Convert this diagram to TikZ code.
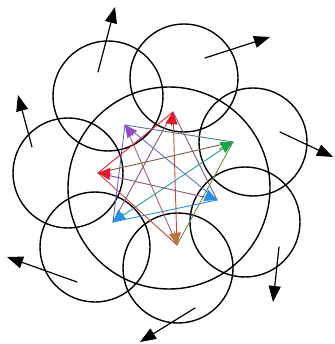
\documentclass[tikz,border=0pt]{standalone}
\usepackage{amsmath,amssymb}
\usepackage{tikz}
\usetikzlibrary{arrows.meta,calc}

\definecolor{mau1}{RGB}{225,25,45}
\definecolor{mau2}{RGB}{25,165,70}
\definecolor{mau3}{RGB}{40,145,230}
\definecolor{mau4}{RGB}{185,115,65}
\definecolor{mau5}{RGB}{40,145,230}
\definecolor{mau6}{RGB}{225,25,45}
\definecolor{mau7}{RGB}{150,75,195}

\begin{document}
\begin{tikzpicture}[>={Triangle[length=16pt,width=12pt]}, line join=round, line cap=round, x=1pt, y=-1pt]
	\useasboundingbox (0,0) rectangle (334,344);

	% Vòng lớn ở giữa
	\coordinate (o) at (169,188);
	\draw[line width=1.4pt] (o) circle (101pt);

	% Bảy vòng bao quanh và mũi tên hướng ra ngoài
	\foreach \cx/\cy/\r/\sx/\sy/\tx/\ty [count=\i] in {
		108/96/55/98/72/115/7,
		184/78/54/205/58/270/37,
		253/142/54/280/132/333/157,
		245/222/55/279/247/273/302,
		178/268/55/195/308/140/342,
		95/247/55/77/282/7/257,
		68/173/55/32/147/18/95} {
		\draw[line width=1.4pt] (\cx,\cy) circle (\r pt);
		\coordinate (s\i) at (\sx,\sy);
		\coordinate (t\i) at (\tx,\ty);
		\draw[->, line width=1.2pt] (s\i) -- (t\i);
	}

	% Ngôi sao bảy cánh
	\coordinate (m) at (165,178);
	\foreach \x/\y [count=\i] in {173/112, 233/142, 217/200, 177/245, 113/222, 98/173, 125/125} {
		\coordinate (p\i) at (\x,\y);
	}
	\foreach \i in {1,...,7} {
		\foreach \k in {2,3} {
			\pgfmathtruncatemacro{\j}{mod(\i+\k-1,7)+1}
			\draw[line width=0.9pt, mau\i!50!mau\j] (p\i) -- (p\j);
		}
	}
	\foreach \i in {1,...,7} {
		\draw[->, line width=0.9pt, mau\i, >={Triangle[length=12pt,width=12pt]}] ($(m)!0.8!(p\i)$) -- (p\i);
	}
\end{tikzpicture}
\end{document}
